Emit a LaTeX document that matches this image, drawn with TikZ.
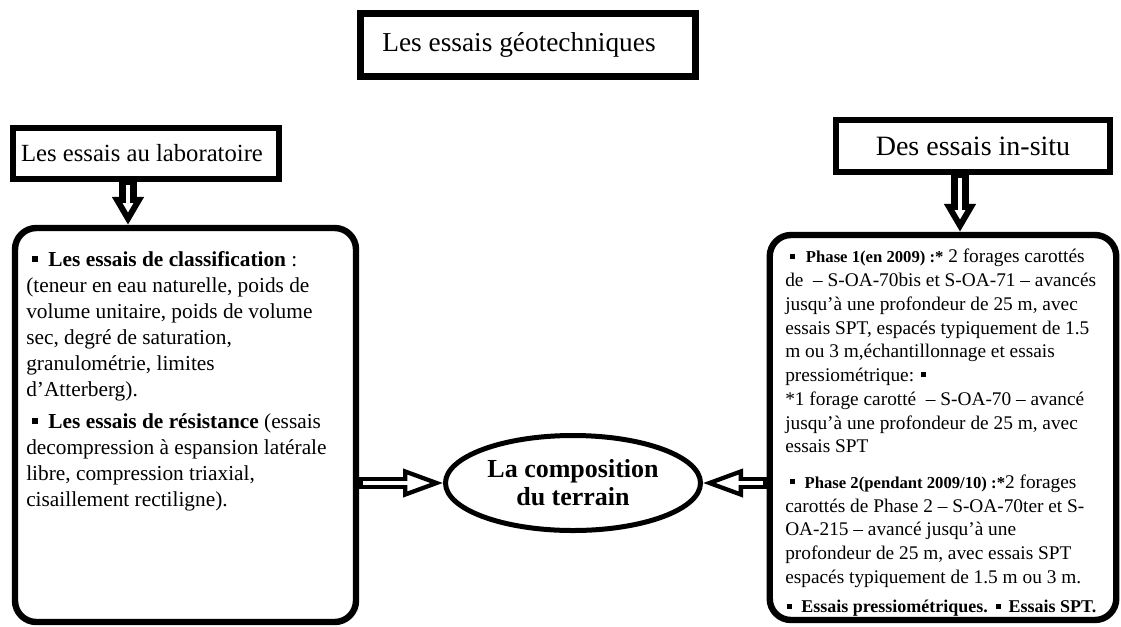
\documentclass[tikz,border=0pt]{standalone}
\usepackage{fontspec}
\setmainfont{Liberation Serif}
\usetikzlibrary{arrows.meta,shapes.geometric}
\newcommand\sqb{\raisebox{0.22em}{\rule{0.26em}{0.26em}}}
\tikzset{
  hdrbox/.style={draw, rectangle, inner sep=0pt, align=center},
  bigbox/.style={draw, rectangle, rounded corners=16pt, line width=4.8pt, inner sep=0pt},
  bodytext/.style={anchor=north west, inner sep=0pt, align=left},
  harrow/.style={line width=9.5pt,
    -{Triangle[fill=white, length=30pt, width=21pt, line width=3.2pt]},
    postaction={draw=white, line width=2.6pt, shorten <=2.5pt, shorten >=20pt, arrows=-}},
  varrow/.style={line width=13pt,
    -{Triangle[fill=white, length=21pt, width=23pt, line width=4.5pt]},
    postaction={draw=white, line width=3.2pt, shorten <=2.5pt, shorten >=12pt, arrows=-}},
}
\begin{document}
\begin{tikzpicture}[x=0.75pt,y=-0.75pt]
\useasboundingbox (0,0) rectangle (1121,626);
% header boxes
\node[hdrbox, line width=5.25pt, minimum width=251.25pt, minimum height=47.25pt,
      font=\fontsize{20.5}{24}\selectfont] (title) at (528,45)
      {Les essais géotechniques\hspace*{13.5pt}};
\node[hdrbox, line width=4.5pt, minimum width=199.5pt, minimum height=38.25pt,
      font=\fontsize{18.5}{22}\selectfont] (hl) at (146,153.5)
      {Les essais au laboratoire\hspace*{6pt}};
\node[hdrbox, line width=4.5pt, minimum width=205.5pt, minimum height=39pt,
      font=\fontsize{21}{24}\selectfont] (hr) at (973,146)
      {Des essais in-situ};
% big boxes
\node[bigbox, minimum width=255.75pt, minimum height=295.5pt] (bl) at (185.5,425) {};
\node[bigbox, minimum width=259.9pt, minimum height=288.75pt] (br) at (943,427.5) {};
% ellipse
\node[draw, ellipse, line width=3.75pt, inner sep=0pt, minimum width=191.25pt,
      minimum height=71.25pt, align=center,
      font=\bfseries\fontsize{19.5}{21}\selectfont] (el) at (573,483)
      {La composition\\du terrain};
% body texts
\node[bodytext, font=\fontsize{16}{19.5}\selectfont] (tl) at (26,251)
{\hspace*{4.5pt}\sqb\hspace*{8pt}{\bfseries Les essais de classification} :\\
(teneur en eau naturelle, poids de\\
volume unitaire, poids de volume\\
sec, degré de saturation,\\
granulométrie, limites\\
d’Atterberg).\\[4.5pt]
\hspace*{4.5pt}\sqb\hspace*{8pt}{\bfseries Les essais de résistance} (essais\\
decompression à espansion latérale\\
libre, compression triaxial,\\
cisaillement rectiligne).};
\node[bodytext, font=\fontsize{14.5}{17.8}\selectfont] (tr) at (785,249)
{\hspace*{3.75pt}\sqb\hspace*{8pt}{\bfseries\fontsize{12.5}{17.8}\selectfont Phase 1(en 2009) :*} 2 forages carottés\\
de \ – S-OA-70bis et S-OA-71 – avancés\\
jusqu’à une profondeur de 25 m, avec\\
essais SPT, espacés typiquement de 1.5\\
m ou 3 m,échantillonnage et essais\\
pressiométrique: \sqb\\
*1 forage carotté \ – S-OA-70 – avancé\\
jusqu’à une profondeur de 25 m, avec\\
essais SPT\\[9pt]
\hspace*{3.75pt}\sqb\hspace*{7pt}{\bfseries\fontsize{12.5}{17.8}\selectfont Phase 2(pendant 2009/10) :*}2 forages\\
carottés de Phase 2 – S-OA-70ter et S-\\
OA-215 – avancé jusqu’à une\\
profondeur de 25 m, avec essais SPT\\
espacés typiquement de 1.5 m ou 3 m.\\[4pt]
{\bfseries\fontsize{13.5}{17.8}\selectfont\hspace*{1.5pt}\sqb\hspace*{7pt}Essais pressiométriques.\hspace*{6pt}\sqb\hspace*{6pt}Essais SPT.}};
% arrows
\coordinate (aL) at (128,0);
\coordinate (aR) at (960,0);
\draw[varrow] (aL |- hl.south) -- (aL |- bl.north);
\draw[varrow] (aR |- hr.south) -- (aR |- br.north);
\draw[harrow] (bl.east |- el.west) -- (el.west);
\draw[harrow] (br.west |- el.east) -- (el.east);
\end{tikzpicture}
\end{document}
